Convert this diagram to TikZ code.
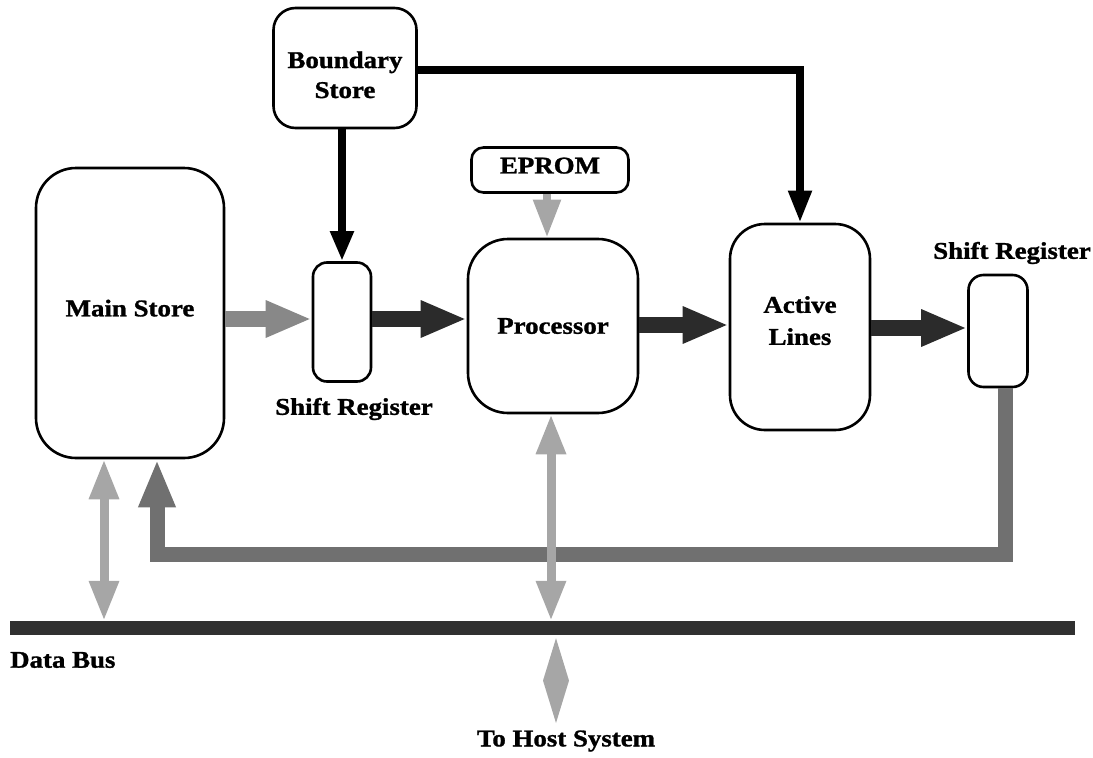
\documentclass[tikz,border=0pt]{standalone}
\usepackage{fontspec}
\setmainfont{Liberation Serif}
\newfontfamily\diagfont[FakeStretch=1.12, FakeBold=1.2]{Liberation Serif Bold}
\usetikzlibrary{arrows.meta,calc}
\definecolor{darkarrow}{HTML}{2B2B2B}
\definecolor{midarrow}{HTML}{888888}
\definecolor{loopgray}{HTML}{707070}
\definecolor{lightarrow}{HTML}{A6A6A6}
\definecolor{busgray}{HTML}{303030}
\tikzset{
  blk/.style={draw=black, line width=2.6pt, fill=white, inner sep=0pt, align=center,
    font=\fontsize{24}{30}\selectfont\diagfont},
  lbl/.style={inner sep=0pt, font=\fontsize{24}{30}\selectfont\diagfont},
  fatarrow/.style={line width=16pt, -{Triangle[width=34pt,length=46pt]}},
  dbl/.style={draw=lightarrow, line width=9pt,
    {Triangle[width=28pt,length=40pt]}-{Triangle[width=28pt,length=40pt]}},
}
\begin{document}
\begin{tikzpicture}[x=1pt,y=-1pt]
\useasboundingbox (0,0) rectangle (1093,758);
% boxes
\node[blk, rounded corners=22pt, minimum width=143pt, minimum height=120pt] (bstore) at (345,68) {\raisebox{-15pt}[0pt][0pt]{Boundary}\\\raisebox{-15pt}[0pt][0pt]{Store}};
\node[blk, rounded corners=40pt, minimum width=188pt, minimum height=290pt] (main) at (130,313) {\raisebox{10pt}{Main Store}};
\node[blk, rounded corners=14pt, minimum width=58pt, minimum height=119pt] (sr1) at (342,322) {};
\node[blk, rounded corners=12pt, minimum width=157pt, minimum height=45pt] (eprom) at (550,170) {\raisebox{9pt}{EPROM}};
\node[blk, rounded corners=40pt, minimum width=170pt, minimum height=174pt] (proc) at (553,326) {Processor};
\node[blk, rounded corners=35pt, minimum width=140pt, minimum height=206pt, font=\fontsize{24}{32}\selectfont\diagfont] (active) at (800,327) {\raisebox{13pt}{Active}\\\raisebox{13pt}{Lines}};
\node[blk, rounded corners=15pt, minimum width=59pt, minimum height=112pt] (sr2) at (998,331) {};
\node[fill=busgray, inner sep=0pt, minimum width=1065pt, minimum height=14pt] (bus) at (542,628) {};
% labels
\node[lbl] (sr1lab) at (354,409) {Shift Register};
\node[lbl] (sr2lab) at (1012,253) {Shift Register};
\node[lbl, anchor=west] (buslab) at (10,660) {Data Bus};
\node[lbl] (host) at (566,741) {To Host System};
\coordinate (bcorner) at (800,70);
\coordinate (loopR) at (1005,554);
\coordinate (loopL) at (157,554);
\coordinate (hosttip) at (556,723);
% connectors
\draw[draw=black, line width=7.5pt, -{Triangle[width=22pt,length=30pt]}] (bstore.south -| 342,0) -- (sr1.north);
\draw[draw=black, line width=7.5pt, -{Triangle[width=22pt,length=32pt]}] (bstore.east |- bcorner) -- (bcorner) -- (active.north -| bcorner);
\draw[fatarrow, draw=midarrow] (main.east |- 0,319) -- (sr1.west |- 0,319);
\draw[fatarrow, draw=darkarrow] (sr1.east |- 0,319) -- (proc.west |- 0,319);
\draw[fatarrow, draw=darkarrow] (proc.east |- 0,325) -- (active.west |- 0,325);
\draw[fatarrow, draw=darkarrow] (active.east |- 0,328) -- (sr2.west |- 0,328);
\draw[draw=lightarrow, line width=8pt, -{Triangle[width=26pt,length=38pt]}] (eprom.south -| 547,0) -- (proc.north -| 547,0);
\draw[draw=loopgray, line width=15pt, -{Triangle[width=34pt,length=48pt]}] (sr2.south -| loopR) -- (loopR) -- (loopL) -- (main.south -| loopL);
\draw[dbl] (main.south -| 104,0) -- (bus.north -| 104,0);
\draw[dbl] (proc.south -| 551,0) -- (bus.north -| 551,0);
\coordinate (htop) at ($(bus.south -| hosttip) + (0,3)$);
\coordinate (hmid) at ($(htop)!0.5!(hosttip)$);
\fill[lightarrow] (htop) -- ($(hmid)+(13,0)$) -- (hosttip) -- ($(hmid)+(-13,0)$) -- cycle;
\end{tikzpicture}
\end{document}
